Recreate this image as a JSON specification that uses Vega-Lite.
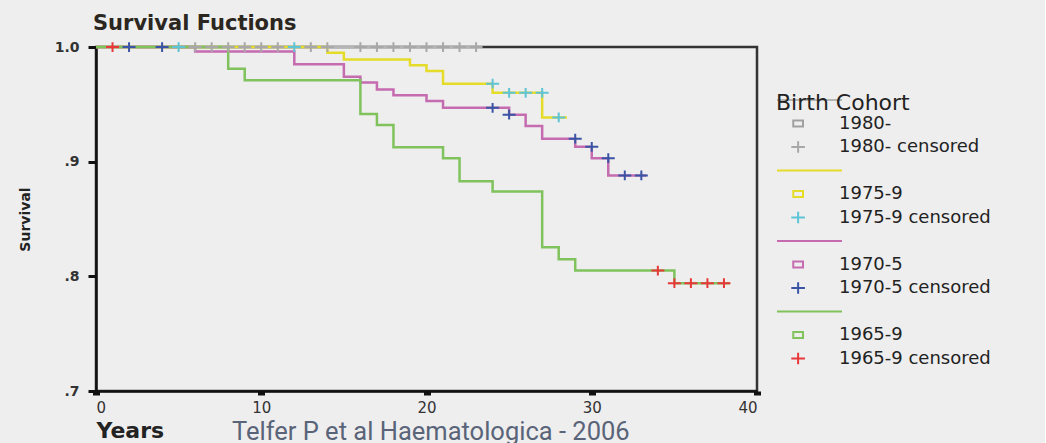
{
  "$schema": "https://vega.github.io/schema/vega-lite/v6.json",
  "background": "#eeeeee",
  "padding": {"left": 16, "top": 11, "right": 54, "bottom": 0},
  "title": {"text": "Telfer P et al Haematologica - 2006", "orient": "bottom", "anchor": "start", "font": "Roboto", "fontSize": 25.5, "fontWeight": "normal", "color": "#5a6479", "offset": -22, "dx": 215},
  "config": {"view": {"stroke": "#333", "strokeWidth": 2.5}},
  "datasets": {
    "curves": [
      {"series": "1980-", "t": 0, "s": 1.0}, {"series": "1980-", "t": 23, "s": 1.0},
      {"series": "1975-9", "t": 0, "s": 1.0}, {"series": "1975-9", "t": 14, "s": 0.995}, {"series": "1975-9", "t": 15, "s": 0.989},
      {"series": "1975-9", "t": 19, "s": 0.984}, {"series": "1975-9", "t": 20, "s": 0.979}, {"series": "1975-9", "t": 21, "s": 0.968},
      {"series": "1975-9", "t": 24, "s": 0.960}, {"series": "1975-9", "t": 27, "s": 0.9386}, {"series": "1975-9", "t": 28.5, "s": 0.9386},
      {"series": "1970-5", "t": 0, "s": 1.0}, {"series": "1970-5", "t": 6, "s": 0.996}, {"series": "1970-5", "t": 12, "s": 0.985},
      {"series": "1970-5", "t": 15, "s": 0.974}, {"series": "1970-5", "t": 16, "s": 0.969}, {"series": "1970-5", "t": 17, "s": 0.963},
      {"series": "1970-5", "t": 18, "s": 0.958}, {"series": "1970-5", "t": 20, "s": 0.953}, {"series": "1970-5", "t": 21, "s": 0.947},
      {"series": "1970-5", "t": 25, "s": 0.941}, {"series": "1970-5", "t": 26, "s": 0.931}, {"series": "1970-5", "t": 27, "s": 0.920},
      {"series": "1970-5", "t": 29, "s": 0.913}, {"series": "1970-5", "t": 30, "s": 0.903}, {"series": "1970-5", "t": 31, "s": 0.888},
      {"series": "1970-5", "t": 33.3, "s": 0.888},
      {"series": "1965-9", "t": 0, "s": 1.0}, {"series": "1965-9", "t": 8, "s": 0.981}, {"series": "1965-9", "t": 9, "s": 0.971},
      {"series": "1965-9", "t": 16, "s": 0.9415}, {"series": "1965-9", "t": 17, "s": 0.932}, {"series": "1965-9", "t": 18, "s": 0.9126},
      {"series": "1965-9", "t": 21, "s": 0.903}, {"series": "1965-9", "t": 22, "s": 0.883}, {"series": "1965-9", "t": 24, "s": 0.874},
      {"series": "1965-9", "t": 27, "s": 0.8254}, {"series": "1965-9", "t": 28, "s": 0.815}, {"series": "1965-9", "t": 29, "s": 0.805},
      {"series": "1965-9", "t": 35, "s": 0.794}, {"series": "1965-9", "t": 38.35, "s": 0.794}
    ],
    "censored": [
      {"series": "1980- censored", "t": 6, "s": 1.0}, {"series": "1980- censored", "t": 7, "s": 1.0}, {"series": "1980- censored", "t": 8, "s": 1.0},
      {"series": "1980- censored", "t": 9, "s": 1.0}, {"series": "1980- censored", "t": 10, "s": 1.0}, {"series": "1980- censored", "t": 11, "s": 1.0},
      {"series": "1980- censored", "t": 13, "s": 1.0}, {"series": "1980- censored", "t": 14, "s": 1.0}, {"series": "1980- censored", "t": 16, "s": 1.0},
      {"series": "1980- censored", "t": 17, "s": 1.0}, {"series": "1980- censored", "t": 18, "s": 1.0}, {"series": "1980- censored", "t": 19, "s": 1.0},
      {"series": "1980- censored", "t": 20, "s": 1.0}, {"series": "1980- censored", "t": 21, "s": 1.0}, {"series": "1980- censored", "t": 22, "s": 1.0},
      {"series": "1980- censored", "t": 23, "s": 1.0},
      {"series": "1975-9 censored", "t": 5, "s": 1.0}, {"series": "1975-9 censored", "t": 12, "s": 1.0}, {"series": "1975-9 censored", "t": 24, "s": 0.968},
      {"series": "1975-9 censored", "t": 25, "s": 0.960}, {"series": "1975-9 censored", "t": 26, "s": 0.960}, {"series": "1975-9 censored", "t": 27, "s": 0.960},
      {"series": "1975-9 censored", "t": 28, "s": 0.9386},
      {"series": "1970-5 censored", "t": 2, "s": 1.0}, {"series": "1970-5 censored", "t": 4, "s": 1.0}, {"series": "1970-5 censored", "t": 24, "s": 0.947},
      {"series": "1970-5 censored", "t": 25, "s": 0.941}, {"series": "1970-5 censored", "t": 29, "s": 0.920}, {"series": "1970-5 censored", "t": 30, "s": 0.913},
      {"series": "1970-5 censored", "t": 31, "s": 0.903}, {"series": "1970-5 censored", "t": 32, "s": 0.888}, {"series": "1970-5 censored", "t": 33, "s": 0.888},
      {"series": "1965-9 censored", "t": 1, "s": 1.0}, {"series": "1965-9 censored", "t": 34, "s": 0.805}, {"series": "1965-9 censored", "t": 35, "s": 0.794},
      {"series": "1965-9 censored", "t": 36, "s": 0.794}, {"series": "1965-9 censored", "t": 37, "s": 0.794}, {"series": "1965-9 censored", "t": 38, "s": 0.794}
    ],
    "legendrows": [
      {"series": "L1980"}, {"series": "1980-"}, {"series": "1980- censored"},
      {"series": "L1975"}, {"series": "1975-9"}, {"series": "1975-9 censored"},
      {"series": "L1970"}, {"series": "1970-5"}, {"series": "1970-5 censored"},
      {"series": "L1965"}, {"series": "1965-9"}, {"series": "1965-9 censored"}
    ]
  },
  "vconcat": [
    {
      "width": 661,
      "height": 344,
      "title": {"text": "Survival Fuctions", "anchor": "start", "frame": "group", "font": "DejaVu Sans", "fontSize": 21, "fontWeight": "bold", "color": "#2b2620", "offset": 4, "dx": -3},
      "encoding": {
        "x": {"field": "t", "type": "quantitative", "scale": {"domain": [0, 40], "nice": false, "zero": false},
          "axis": {"values": [0, 10, 20, 30, 40], "title": "Years", "titleAnchor": "start", "titleFont": "DejaVu Sans", "titleFontSize": 22, "titleFontWeight": "bold", "titleColor": "#222", "titlePadding": 5,
            "labelFont": "DejaVu Sans", "labelFontSize": 15, "labelColor": "#333", "tickSize": 4, "tickWidth": 7, "tickColor": "#111", "labelPadding": 5, "domainColor": "#111", "domainWidth": 2.5, "grid": false}},
        "y": {"field": "s", "type": "quantitative", "scale": {"domain": [0.7, 1.0], "nice": false, "zero": false},
          "axis": {"values": [0.7, 0.8, 0.9, 1.0], "labelExpr": "datum.value > 0.99 ? '1.0' : '.' + round(datum.value * 10)", "title": "Survival", "titleFont": "DejaVu Sans", "titleFontSize": 14, "titleFontWeight": "bold", "titleColor": "#222", "titlePadding": 22,
            "labelFont": "DejaVu Sans", "labelFontSize": 14, "labelFontWeight": "bold", "labelColor": "#333", "tickSize": 8, "tickWidth": 3, "tickColor": "#111", "labelPadding": 9, "domainColor": "#111", "domainWidth": 2.5, "grid": false}}
      },
      "layer": [
        {
          "data": {"name": "curves"},
          "mark": {"type": "line", "interpolate": "step-after", "strokeWidth": 2.5},
          "encoding": {
            "stroke": {"field": "series", "type": "nominal", "legend": null,
              "scale": {"domain": ["1980-", "1980- censored", "1975-9", "1975-9 censored", "1970-5", "1970-5 censored", "1965-9", "1965-9 censored"],
                "range": ["#b5b5b5", "#a8a8a8", "#e5dc2a", "#5ec4d6", "#c56bb0", "#3a55a5", "#80c25c", "#e8383a"]}}
          }
        },
        {
          "data": {"name": "censored"},
          "mark": {"type": "point", "shape": "M-1,0H1M0,-0.75V0.75", "size": 169, "strokeWidth": 2, "filled": false, "opacity": 1},
          "encoding": {
            "stroke": {"field": "series", "type": "nominal", "legend": null,
              "scale": {"domain": ["1980-", "1980- censored", "1975-9", "1975-9 censored", "1970-5", "1970-5 censored", "1965-9", "1965-9 censored"],
                "range": ["#b5b5b5", "#a8a8a8", "#e5dc2a", "#5ec4d6", "#c56bb0", "#3a55a5", "#80c25c", "#e8383a"]}}
          }
        },
        {
          "data": {"name": "legendrows"},
          "mark": {"type": "point", "filled": false, "opacity": 1},
          "encoding": {
            "color": {"field": "series", "type": "nominal",
              "scale": {"domain": ["L1980", "1980-", "1980- censored", "L1975", "1975-9", "1975-9 censored", "L1970", "1970-5", "1970-5 censored", "L1965", "1965-9", "1965-9 censored"],
                "range": ["#b5b5b5", "#a0a0a0", "#a8a8a8", "#e5dc2a", "#e5dc2a", "#5ec4d6", "#c56bb0", "#c56bb0", "#3a55a5", "#80c25c", "#80c25c", "#e8383a"]},
              "legend": {"title": ["\u00a0", "Birth Cohort"], "orient": "right", "offset": 14, "padding": 0,
                "titleFont": "DejaVu Sans", "titleFontSize": 22, "titleLineHeight": 46, "titleFontWeight": "normal", "titleColor": "#222", "titlePadding": -25,
                "labelFont": "DejaVu Sans", "labelFontSize": 18, "labelColor": "#222", "labelOffset": -4, "labelLimit": 300,
                "labelExpr": "indexof(datum.label, 'L19') == 0 ? '' : datum.label",
                "symbolSize": 4225, "symbolStrokeWidth": 2, "clipHeight": 20, "rowPadding": 3.5}},
            "shape": {"field": "series", "type": "nominal",
              "scale": {"domain": ["L1980", "1980-", "1980- censored", "L1975", "1975-9", "1975-9 censored", "L1970", "1970-5", "1970-5 censored", "L1965", "1965-9", "1965-9 censored"],
                "range": ["M-1,0H1", "M-0.5,-0.09H-0.2V0.09H-0.5Z", "M-0.56,0H-0.14M-0.35,-0.18V0.18", "M-1,0H1", "M-0.5,-0.09H-0.2V0.09H-0.5Z", "M-0.56,0H-0.14M-0.35,-0.18V0.18", "M-1,0H1", "M-0.5,-0.09H-0.2V0.09H-0.5Z", "M-0.56,0H-0.14M-0.35,-0.18V0.18", "M-1,0H1", "M-0.5,-0.09H-0.2V0.09H-0.5Z", "M-0.56,0H-0.14M-0.35,-0.18V0.18"]},
              "legend": {"title": ["\u00a0", "Birth Cohort"]}}
          }
        }
      ]
    }
  ]
}
